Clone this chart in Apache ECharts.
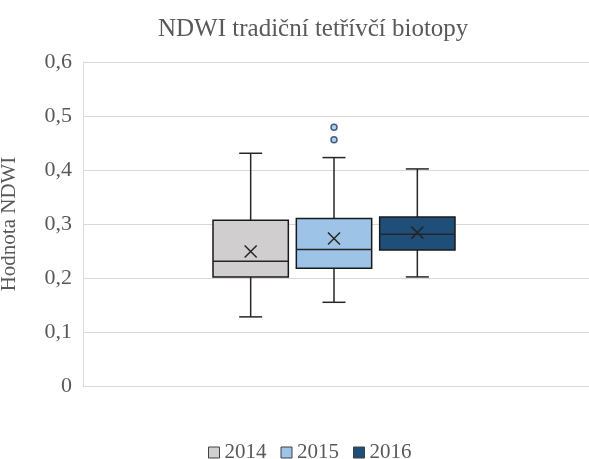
<!DOCTYPE html>
<html>
<head>
<meta charset="utf-8">
<script src="https://cdn.jsdelivr.net/npm/echarts@6/dist/echarts.min.js"></script>
<style>
  html, body { margin: 0; padding: 0; background: #fff; }
  #chart { width: 589px; height: 459px; }
</style>
</head>
<body>
<div id="chart"></div>
<script>
// hodnoty
var years = ['2014', '2015', '2016'];
var minVals = [0.128, 0.155, 0.202];
var q1Vals = [0.202, 0.218, 0.252];
var medianVals = [0.231, 0.253, 0.281];
var q3Vals = [0.307, 0.310, 0.313];
var maxVals = [0.431, 0.423, 0.402];
var meanVals = [0.249, 0.273, 0.284];
var outliers2015 = [0.479, 0.456];
var colors = ['#d0cece', '#9dc3e6', '#1f4e79'];

var serif = "'Liberation Serif', 'DejaVu Serif', serif";
var textColor = '#595959';

var myChart = echarts.init(document.getElementById('chart'));

function renderBox(params, api) {
    var idx = api.value(0);
    var pMin = api.coord([idx, api.value(1)]);
    var pQ1 = api.coord([idx, api.value(2)]);
    var pMed = api.coord([idx, api.value(3)]);
    var pQ3 = api.coord([idx, api.value(4)]);
    var pMax = api.coord([idx, api.value(5)]);
    var pMean = api.coord([idx, api.value(6)]);
    var cx = pMed[0];
    var bw = api.size([1, 0])[0] - 8;
    var cap = 11.5;
    var xs = 6;
    var line = { stroke: '#262626', lineWidth: 1.5 };
    return {
        type: 'group',
        children: [
            { type: 'line', shape: { x1: cx, y1: pMax[1], x2: cx, y2: pQ3[1] }, style: line },
            { type: 'line', shape: { x1: cx, y1: pQ1[1], x2: cx, y2: pMin[1] }, style: line },
            { type: 'line', shape: { x1: cx - cap, y1: pMax[1], x2: cx + cap, y2: pMax[1] }, style: line },
            { type: 'line', shape: { x1: cx - cap, y1: pMin[1], x2: cx + cap, y2: pMin[1] }, style: line },
            {
                type: 'rect',
                shape: { x: cx - bw / 2, y: pQ3[1], width: bw, height: pQ1[1] - pQ3[1] },
                style: { fill: api.visual('color'), stroke: '#1a1a1a', lineWidth: 1.5 }
            },
            { type: 'line', shape: { x1: cx - bw / 2, y1: pMed[1], x2: cx + bw / 2, y2: pMed[1] }, style: line },
            { type: 'line', shape: { x1: cx - xs, y1: pMean[1] - xs, x2: cx + xs, y2: pMean[1] + xs }, style: line },
            { type: 'line', shape: { x1: cx - xs, y1: pMean[1] + xs, x2: cx + xs, y2: pMean[1] - xs }, style: line }
        ]
    };
}

var series = years.map(function (y, i) {
    return {
        name: y,
        type: 'custom',
        xAxisIndex: 1,
        yAxisIndex: 1,
        itemStyle: { color: colors[i] },
        renderItem: renderBox,
        encode: { x: 0, y: [1, 2, 3, 4, 5] },
        data: [[i, minVals[i], q1Vals[i], medianVals[i], q3Vals[i], maxVals[i], meanVals[i]]]
    };
});

series.push({
    name: 'odlehlé 2015',
    type: 'scatter',
    xAxisIndex: 1,
    yAxisIndex: 1,
    symbol: 'circle',
    symbolSize: 6,
    itemStyle: { color: colors[1], borderColor: '#1f3864', borderWidth: 1.5 },
    data: outliers2015.map(function (v) { return [1, v]; })
});

var option = {
    animation: false,
    title: {
        text: 'NDWI tradiční tetřívčí biotopy',
        left: 153,
        top: 12,
        textStyle: { fontFamily: serif, fontSize: 25, fontWeight: 'normal', color: textColor }
    },
    legend: {
        data: years,
        left: 203,
        top: 437,
        icon: 'rect',
        itemWidth: 11,
        itemHeight: 11,
        itemGap: 14,
        itemStyle: { borderColor: '#404040', borderWidth: 1 },
        textStyle: { fontFamily: serif, fontSize: 21, color: textColor }
    },
    grid: [
        { left: 83, right: 0, top: 62, bottom: 73, outerBoundsMode: 'none' },
        { left: 209, width: 250, top: 62, bottom: 73, outerBoundsMode: 'none' }
    ],
    xAxis: [
        {
            type: 'category',
            gridIndex: 0,
            data: [''],
            axisLine: { show: true, lineStyle: { color: '#d9d9d9' } },
            axisTick: { show: false },
            axisLabel: { show: false }
        },
        {
            type: 'category',
            gridIndex: 1,
            data: years,
            show: false
        }
    ],
    yAxis: [
        {
            type: 'value',
            gridIndex: 0,
            min: 0,
            max: 0.6,
            interval: 0.1,
            name: 'Hodnota NDWI',
            nameLocation: 'middle',
            nameRotate: 90,
            nameGap: 63,
            nameTextStyle: { fontFamily: serif, fontSize: 21, color: textColor },
            axisLine: { show: true, lineStyle: { color: '#d9d9d9' } },
            axisTick: { show: false },
            splitLine: { lineStyle: { color: '#d9d9d9', width: 1 } },
            axisLabel: {
                margin: 11,
                fontFamily: serif,
                fontSize: 22,
                color: textColor,
                formatter: function (v) { return String(Math.round(v * 10) / 10).replace('.', ','); }
            }
        },
        {
            type: 'value',
            gridIndex: 1,
            min: 0,
            max: 0.6,
            interval: 0.1,
            show: false,
            splitLine: { show: false }
        }
    ],
    series: series
};

myChart.setOption(option);
</script>
</body>
</html>
